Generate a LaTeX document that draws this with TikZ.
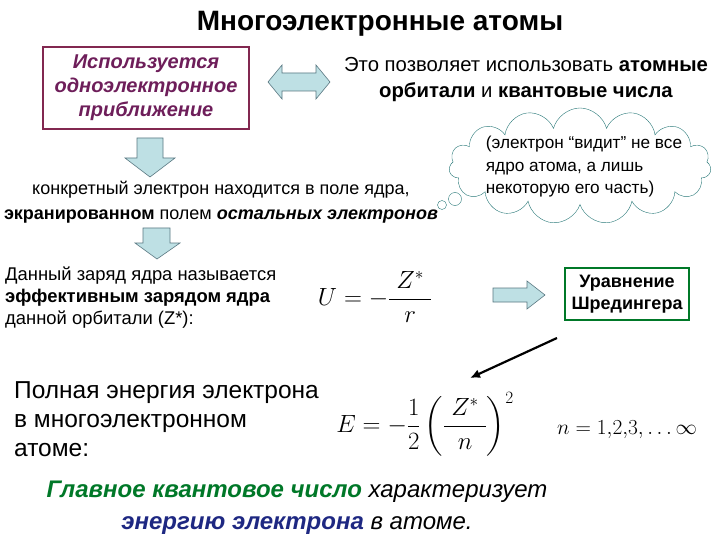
\documentclass[tikz,border=0pt]{standalone}
\usepackage{amsmath}
\usepackage{graphicx}
\usepackage{fontspec}
\setmainfont{Liberation Sans}
\usetikzlibrary{shapes.symbols,arrows.meta}
\definecolor{arrfill}{RGB}{190,224,228}
\definecolor{arrline}{RGB}{90,120,130}
\definecolor{purp}{RGB}{110,30,90}
\definecolor{boxpurp}{RGB}{130,40,80}
\definecolor{grn}{RGB}{0,120,40}
\definecolor{navy}{RGB}{30,40,130}
\definecolor{cloudc}{RGB}{40,120,120}
\begin{document}
\begin{tikzpicture}[x=1pt,y=-1pt,
  fat/.style={fill=arrfill,draw=arrline,line width=0.6pt},
  txt/.style={inner sep=0pt,align=center}]
\useasboundingbox[fill=white] (0,0) rectangle (720,540);
\node[txt,font=\bfseries\fontsize{28}{32}\selectfont] (title) at (380,24) {Многоэлектронные атомы};
\node[draw=boxpurp,line width=1.6pt,minimum width=206pt,minimum height=82pt,txt,text=purp,font=\bfseries\itshape\fontsize{20}{24}\selectfont] (b1) at (146,88) {Используется\\одноэлектронное\\приближение};
\node[txt,font=\fontsize{20.3}{26}\selectfont] (t1) at (526,80) {Это позволяет использовать \textbf{атомные}\\\textbf{орбитали} и \textbf{квантовые числа}};
% double arrow
\filldraw[fat] (268,82) -- (282,65) -- (282,73) -- (316,73) -- (316,65) -- (330,82) -- (316,99) -- (316,91) -- (282,91) -- (282,99) -- cycle;
% down arrow 1
\filldraw[fat] (137,138) -- (163,138) -- (163,158) -- (175,158) -- (150,177) -- (125,158) -- (137,158) -- cycle;
\node[txt,font=\fontsize{18}{25}\selectfont] (t2) at (221,202) {конкретный электрон находится в поле ядра,\\\textbf{экранированном} полем \textbf{\itshape остальных электронов}};
\node[cloud,draw=cloudc,fill=white,cloud puffs=15,aspect=2.3,minimum width=262pt,minimum height=116pt,inner sep=0pt] (cl) at (580,166) {};
\node[txt,align=left,font=\fontsize{17.2}{22.5}\selectfont] (ct) at (584,167) {(электрон “видит” не все\\ядро атома, а лишь\\некоторую его часть)};
\node[circle,draw=cloudc,minimum size=9pt,inner sep=0pt] (c1) at (442,205) {};
\node[circle,draw=cloudc,minimum size=13pt,inner sep=0pt] (c2) at (455,199) {};
% down arrow 2
\filldraw[fat] (143,228) -- (170,228) -- (170,243) -- (180,243) -- (157,259) -- (135,243) -- (143,243) -- cycle;
\node[txt,align=left,anchor=west,font=\fontsize{18.4}{22}\selectfont] (t3) at (5,298) {Данный заряд ядра называется\\\textbf{эффективным зарядом ядра}\\данной орбитали (Z*):};
\node[txt,font=\fontsize{27}{30}\selectfont] (u) at (375,297) {$U=-\dfrac{\rule{0pt}{14pt}\;Z^{*}\;}{r}$};
% right arrow
\filldraw[fat] (493,288) -- (527,288) -- (527,281) -- (545,295) -- (527,309) -- (527,302) -- (493,302) -- cycle;
\node[draw=grn,line width=2pt,minimum width=124pt,minimum height=52pt,txt,font=\bfseries\fontsize{18}{22}\selectfont] (sch) at (627,294) {Уравнение\\Шредингера};
\coordinate (as) at (557,338);
\coordinate (ae) at (470,378);
\draw[line width=2.2pt,-{Latex[length=10pt,width=9pt]}] (as) -- (ae);
\node[txt,align=left,anchor=west,font=\fontsize{24.5}{29}\selectfont] (t4) at (14,419) {Полная энергия электрона\\в многоэлектронном\\атоме:};
\node[txt,font=\fontsize{26}{30}\selectfont] (e) at (425,424) {$E=-\dfrac{1}{2}\left(\dfrac{\rule{0pt}{14pt}\;Z^{*}\;}{n}\right)^{2}$};
\node[txt,font=\fontsize{26}{30}\selectfont] (n) at (627,430) {\scalebox{0.86}{$n=1{,}2{,}3{,}\ldots\infty$}};
\node[txt,font=\itshape\fontsize{24}{32}\selectfont] (t5) at (297,508) {\textcolor{grn}{\bfseries Главное квантовое число} характеризует\\\textcolor{navy}{\bfseries энергию электрона} в атоме.};
\end{tikzpicture}
\end{document}
